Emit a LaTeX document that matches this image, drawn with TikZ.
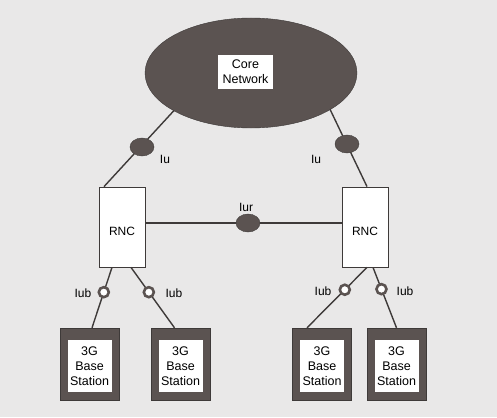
\documentclass[tikz,border=0pt]{standalone}
\usepackage{fontspec}
\setmainfont{Liberation Sans}
\usetikzlibrary{shapes.geometric}
\definecolor{paper}{HTML}{E9E8E8}
\definecolor{dark}{HTML}{5B5351}
\definecolor{linec}{HTML}{3E3A39}
\tikzset{
  conn/.style={draw=linec, line width=1.4pt},
  rncbox/.style={draw=linec, line width=0.8pt, fill=white, minimum width=46pt, minimum height=80pt, inner sep=0pt},
  bsouter/.style={fill=dark, draw=linec, line width=0.4pt, minimum width=59pt, minimum height=72pt, inner sep=0pt},
  bsinner/.style={fill=white, minimum width=44pt, minimum height=52pt, inner sep=0pt, align=center, font=\fontsize{12.5}{15}\selectfont},
  iuoval/.style={ellipse, fill=dark, draw=linec, line width=0.4pt, minimum width=24pt, minimum height=18pt, inner sep=0pt},
  iubring/.style={circle, fill=white, draw=dark, line width=2.6pt, minimum size=10pt, inner sep=0pt},
  lbl/.style={font=\fontsize{12}{14}\selectfont, inner sep=0pt}
}
\begin{document}
\begin{tikzpicture}[x=1pt,y=-1pt]
\fill[paper] (0,0) rectangle (497,417);
\useasboundingbox (0,0) rectangle (497,417);
% boxes
\node[rncbox] (rnc1) at (122,227) {};
\node[rncbox] (rnc2) at (365,227) {};
\coordinate (e1) at (180,104);
\coordinate (e2) at (327,103);
% Iu connectors (drawn below the ellipse)
\draw[conn] ([xshift=-18pt]rnc1.north) -- (e1);
\draw[conn] ([xshift=2pt]rnc2.north) -- (e2);
% core network
\fill[dark] (251,73) ellipse [x radius=106, y radius=55];
\draw[linec, line width=0.4pt] (251,73) ellipse [x radius=106, y radius=55];
\node[fill=white, minimum width=55pt, minimum height=34pt, inner sep=0pt, align=center, font=\fontsize{12.5}{15}\selectfont] (core) at (245.5,72) {Core\\Network};
% RNC labels
\node[lbl] at (122,231) {RNC};
\node[lbl] at (365,231) {RNC};
% Iu ovals
\node[iuoval] (iu1) at (142,147) {};
\node[iuoval] (iu2) at (347,144) {};
\node[lbl] at (165,159) {Iu};
\node[lbl] at (316,159) {Iu};
% Iur
\draw[conn] (rnc1.east |- 0,223) -- (rnc2.west |- 0,223);
\node[iuoval] (iur) at (248,223) {};
\node[lbl] at (246,207) {Iur};
% base stations
\foreach \n/\x in {1/89.5, 2/180.5, 3/322, 4/396.5}{
  \node[bsouter] (bs\n) at (\x,364) {};
  \node[bsinner] (bsi\n) at (\x,366) {3G\\Base\\Station};
}
% Iub connectors
\draw[conn] ([xshift=-10pt]rnc1.south) -- node[pos=0.41, iubring] (r1) {} ([xshift=2.5pt]bs1.north);
\draw[conn] ([xshift=9pt]rnc1.south) -- node[pos=0.41, iubring] (r2) {} ([xshift=-6pt]bs2.north);
\draw[conn] ([xshift=2pt]rnc2.south) -- node[pos=0.37, iubring] (r3) {} ([xshift=-15pt]bs3.north);
\draw[conn] ([xshift=8pt]rnc2.south) -- node[pos=0.36, iubring] (r4) {} ([xshift=0pt]bs4.north);
\node[lbl] at (83,293) {Iub};
\node[lbl] at (174,293) {Iub};
\node[lbl] at (323,291) {Iub};
\node[lbl] at (405,291) {Iub};
\end{tikzpicture}
\end{document}
